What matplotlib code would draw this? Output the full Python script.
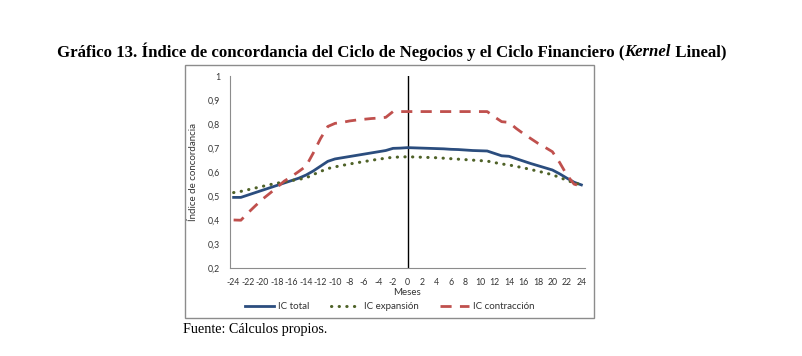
import matplotlib
matplotlib.use("Agg")
import matplotlib.pyplot as plt
from matplotlib.patches import Rectangle

meses = list(range(-24, 25))
ic_total = [0.495, 0.495, 0.505, 0.515, 0.525, 0.535, 0.545, 0.555, 0.565, 0.575,
            0.588, 0.605, 0.625, 0.645, 0.655, 0.660, 0.665, 0.670, 0.675, 0.680,
            0.685, 0.690, 0.699, 0.700, 0.702, 0.701, 0.700, 0.699, 0.698, 0.697,
            0.695, 0.694, 0.692, 0.690, 0.689, 0.688, 0.678, 0.668, 0.666, 0.656,
            0.646, 0.636, 0.627, 0.618, 0.609, 0.593, 0.575, 0.558, 0.547]
ic_expansion = [0.515, 0.520, 0.527, 0.534, 0.541, 0.548, 0.554, 0.560, 0.565, 0.570,
                0.576, 0.590, 0.603, 0.615, 0.622, 0.628, 0.634, 0.639, 0.644, 0.649,
                0.654, 0.658, 0.662, 0.663, 0.664, 0.663, 0.662, 0.661, 0.660, 0.658,
                0.656, 0.654, 0.652, 0.650, 0.648, 0.646, 0.640, 0.634, 0.630, 0.624,
                0.618, 0.611, 0.604, 0.597, 0.589, 0.578, 0.566, 0.555, 0.548]
ic_contraccion = [0.401, 0.400, 0.431, 0.460, 0.488, 0.512, 0.537, 0.563, 0.582, 0.603,
                  0.625, 0.680, 0.740, 0.790, 0.803, 0.807, 0.813, 0.817, 0.820, 0.823,
                  0.825, 0.828, 0.852, 0.852, 0.852, 0.852, 0.852, 0.852, 0.852, 0.852,
                  0.852, 0.852, 0.852, 0.852, 0.852, 0.852, 0.830, 0.810, 0.807, 0.782,
                  0.760, 0.740, 0.720, 0.703, 0.685, 0.640, 0.588, 0.550, 0.542]
yticks = [0.2, 0.3, 0.4, 0.5, 0.6, 0.7, 0.8, 0.9, 1.0]
ytick_labels = ["0,2", "0,3", "0,4", "0,5", "0,6", "0,7", "0,8", "0,9", "1"]

plt.rcParams["font.family"] = ["Lato", "DejaVu Sans"]

W, H = 802, 356
fig = plt.figure(figsize=(W / 100, H / 100), dpi=100)
ax = fig.add_axes([230 / W, 1 - 268.3 / H, 355 / W, (268.3 - 76) / H])

# marco del gráfico
fig.patches.append(Rectangle((185 / W, 1 - 318 / H), 409 / W, 253 / H,
                             transform=fig.transFigure, fill=False,
                             edgecolor="#8c8c8c", linewidth=1))

ax.plot(meses, ic_total, color="#2b4d7e", lw=2.0, label="IC total", zorder=3)
ax.plot(meses, ic_expansion, color="#4f6228", lw=2.2, ls=(0, (0.1, 2.4)),
        dash_capstyle="round", label="IC expansión", zorder=3)
ax.plot(meses, ic_contraccion, color="#c0504d", lw=2.0, ls=(0, (4, 3)),
        label="IC contracción", zorder=3)
ax.axvline(0, color="black", lw=1, zorder=2)

ax.set_xlim(-24.5, 24.5)
ax.set_ylim(0.2, 1.0)
ax.set_xticks(meses[::2])
ax.set_xticklabels([str(m) for m in meses[::2]])
ax.set_yticks(yticks)
ax.set_yticklabels(ytick_labels)
ax.tick_params(length=0, labelsize=6.3, colors="#333333", pad=7)
for s in ["top", "right"]:
    ax.spines[s].set_visible(False)
for s in ["left", "bottom"]:
    ax.spines[s].set_color("#8c8c8c")
ax.set_xlabel("Meses", fontsize=7, color="#333333", labelpad=1)
ax.set_ylabel("Índice de concordancia", fontsize=7, color="#333333", labelpad=7)

ax.legend(loc="center", bbox_to_anchor=(0.45, -0.2), ncol=3, frameon=False,
          fontsize=7, handlelength=3.0, columnspacing=2.2, handletextpad=0.4,
          labelcolor="#333333")

# título con Kernel en cursiva
r = fig.canvas.get_renderer()
parts = [("Gráfico 13. Índice de concordancia del Ciclo de Negocios y el Ciclo Financiero (", "normal"),
         ("Kernel", "italic"),
         (" Lineal)", "normal")]
x = 57 / W
for txt, st in parts:
    t = fig.text(x, 1 - 52 / H, txt, family="Liberation Serif", weight="bold",
                 style=st, fontsize=12.1, va="center", ha="left")
    bb = t.get_window_extent(renderer=r)
    x += bb.width / W

fig.text(183 / W, 1 - 329 / H, "Fuente: Cálculos propios.", family="Liberation Serif",
         fontsize=10.2, va="center", ha="left")

fig.savefig("out.png", dpi=100)
